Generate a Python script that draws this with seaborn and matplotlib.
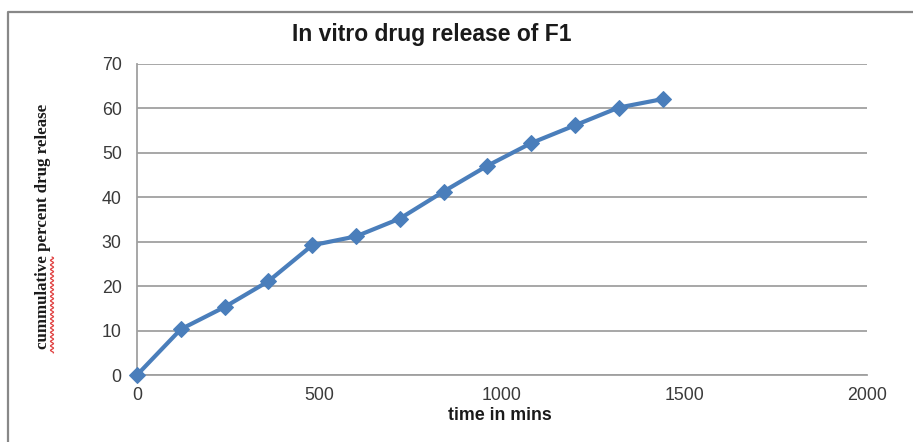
import numpy as np
import pandas as pd
import matplotlib
matplotlib.use("Agg")
import matplotlib.pyplot as plt
from matplotlib.lines import Line2D
import seaborn as sns

# Release profile of formulation F1
time_min = [0, 120, 240, 360, 480, 600, 720, 840, 960, 1080, 1200, 1320, 1440]
release_pct = [0, 10.3, 15.3, 21.1, 29.2, 31.2, 35.2, 41.3, 47.1, 52.2, 56.2, 60.2, 62.1]
x_ticks = [0, 500, 1000, 1500, 2000]
y_ticks = [0, 10, 20, 30, 40, 50, 60, 70]

title_text = "In vitro drug release of F1"
x_label = "time in mins"
y_label = "cummulative percent drug release"

sns.set_theme(style="white")
plt.rcParams["font.family"] = ["Liberation Sans", "DejaVu Sans"]

W, H = 913, 442
fig = plt.figure(figsize=(W / 100, H / 100), dpi=100)
ax = fig.add_axes([137 / W, 1 - 375 / H, (867 - 137) / W, (375 - 64) / H])

df = pd.DataFrame({"time": time_min, "release": release_pct})
blue = "#4a7ebb"
sns.lineplot(data=df, x="time", y="release", ax=ax, color=blue, linewidth=3,
             marker="D", markersize=8.5, markeredgecolor=blue, markerfacecolor=blue,
             clip_on=False, zorder=5)

ax.set_xlim(0, 2000)
ax.set_ylim(0, 70)
ax.set_xticks(x_ticks)
ax.set_yticks(y_ticks)
ax.grid(axis="y", color="#a0a0a0", linewidth=1.3)
ax.grid(axis="x", visible=False)
for s in ["top", "right"]:
    ax.spines[s].set_visible(False)
for s in ["left", "bottom"]:
    ax.spines[s].set_color("#a0a0a0")
    ax.spines[s].set_linewidth(1.3)
ax.tick_params(axis="both", length=0, labelsize=12.8, colors="#3a3a3a")
ax.tick_params(axis="x", pad=9)
ax.tick_params(axis="y", pad=11)
ax.set_xlabel("")
ax.set_ylabel("")

# titles and axis labels placed in figure coordinates
fig.text(432 / W, 1 - 35 / H, title_text, ha="center", va="center",
         fontsize=16.5, fontweight="bold", color="#1a1a1a")
fig.text(500 / W, 1 - 416 / H, x_label, ha="center", va="center",
         fontsize=12.8, fontweight="bold", color="#1a1a1a")
fig.text(43 / W, 1 - 226 / H, y_label, ha="center", va="center", rotation=90,
         fontsize=12.2, fontweight="bold",
         family=["Liberation Serif", "DejaVu Serif"], color="#1a1a1a")

# red spell-check squiggle under the misspelled word
yy = np.linspace(257, 353, 300)
xx = 52 + 1.5 * np.sin((yy - 257) / 4.5 * 2 * np.pi)
fig.add_artist(Line2D(xx / W, 1 - yy / H, transform=fig.transFigure,
                      color="#e04040", linewidth=0.9))

# chart area frame (top and left edges)
fig.add_artist(Line2D([8 / W, 8 / W, 1.0], [0.0, 1 - 12 / H, 1 - 12 / H],
                      transform=fig.transFigure, color="#888888", linewidth=1.6))

fig.savefig("out.png", dpi=100)
